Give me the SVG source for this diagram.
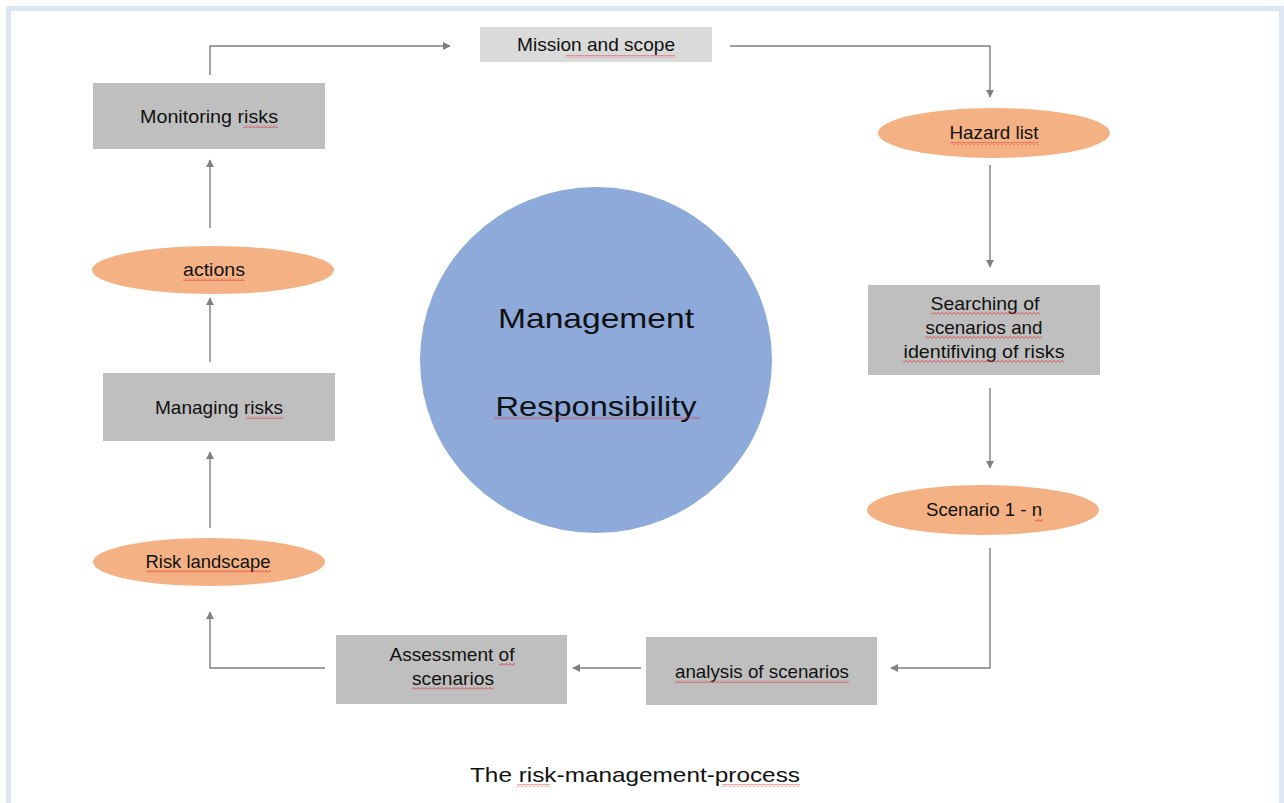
<svg xmlns="http://www.w3.org/2000/svg" width="1284" height="803" viewBox="0 0 1284 803">
<style>
.box{fill:#bfbfbf}
.box2{fill:#dadada}
.ell{fill:#f4b183}
.t{font-family:"Liberation Sans",Arial,sans-serif;font-size:19px;fill:#111;text-anchor:middle}
.big{font-size:28px}
.cap{font-size:21px}
.conn{fill:none;stroke:#7f7f7f;stroke-width:1.4}
.sq{fill:url(#squig)}
</style>
<defs>
<marker id="ah" viewBox="0 0 10 10" refX="9" refY="5" markerWidth="8" markerHeight="8" markerUnits="userSpaceOnUse" orient="auto">
<path d="M0,0 L10,5 L0,10 z" fill="#7f7f7f"/>
</marker>
<pattern id="squig" width="4" height="3" patternUnits="userSpaceOnUse">
<path d="M0,2.5 L2,0.5 L4,2.5" fill="none" stroke="#e0242a" stroke-width="0.8"/>
</pattern>
</defs>
<rect width="1284" height="803" fill="#ffffff"/>
<rect x="8.5" y="8.5" width="1273" height="800" fill="none" stroke="#dde7f3" stroke-width="5"/>

<g id="connectors">
<path class="conn" d="M210,75 V46 H450" marker-end="url(#ah)"/>
<path class="conn" d="M730,46 H990 V97" marker-end="url(#ah)"/>
<path class="conn" d="M990,165 V267" marker-end="url(#ah)"/>
<path class="conn" d="M990,388 V468" marker-end="url(#ah)"/>
<path class="conn" d="M990,548 V668 H891" marker-end="url(#ah)"/>
<path class="conn" d="M641,668 H573" marker-end="url(#ah)"/>
<path class="conn" d="M325,668 H210 V612" marker-end="url(#ah)"/>
<path class="conn" d="M210,528 V452" marker-end="url(#ah)"/>
<path class="conn" d="M210,362 V298" marker-end="url(#ah)"/>
<path class="conn" d="M210,228 V160" marker-end="url(#ah)"/>
</g>

<g id="center">
<ellipse cx="596" cy="360" rx="176" ry="173" fill="#8eaadb"/>
<text class="t big" x="596" y="328" textLength="196" lengthAdjust="spacingAndGlyphs">Management</text>
<text class="t big" x="596" y="416" textLength="201" lengthAdjust="spacingAndGlyphs">Responsibility</text>
<rect class="sq" x="494" y="416" width="206" height="3"/>
</g>

<g id="mission">
<rect class="box2" x="480" y="27" width="232" height="35"/>
<text class="t" x="596" y="51" textLength="158" lengthAdjust="spacingAndGlyphs">Mission and scope</text>
<rect class="sq" x="566" y="55" width="109" height="3"/>
</g>

<g id="hazard">
<ellipse class="ell" cx="994" cy="133" rx="116" ry="25"/>
<text class="t" x="994" y="139" textLength="89" lengthAdjust="spacingAndGlyphs">Hazard list</text>
<rect class="sq" x="950" y="142" width="89" height="3"/>
</g>

<g id="searching">
<rect class="box" x="868" y="285" width="232" height="90"/>
<text class="t" x="985" y="310" textLength="109" lengthAdjust="spacingAndGlyphs">Searching of</text>
<text class="t" x="984" y="334" textLength="117" lengthAdjust="spacingAndGlyphs">scenarios and</text>
<text class="t" x="984" y="358" textLength="161" lengthAdjust="spacingAndGlyphs">identifiving of risks</text>
<rect class="sq" x="931" y="312" width="109" height="3"/>
<rect class="sq" x="925" y="336" width="117" height="3"/>
<rect class="sq" x="903" y="360" width="161" height="3"/>
</g>

<g id="scenario">
<ellipse class="ell" cx="983" cy="510" rx="116" ry="25"/>
<text class="t" x="984" y="516" textLength="116" lengthAdjust="spacingAndGlyphs">Scenario 1 - n</text>
<rect class="sq" x="1035" y="519" width="8" height="3"/>
</g>

<g id="analysis">
<rect class="box" x="646" y="637" width="231" height="68"/>
<text class="t" x="762" y="678" textLength="174" lengthAdjust="spacingAndGlyphs">analysis of scenarios</text>
<rect class="sq" x="675" y="680" width="174" height="3"/>
</g>

<g id="assessment">
<rect class="box" x="336" y="635" width="231" height="69"/>
<text class="t" x="452" y="661" textLength="125" lengthAdjust="spacingAndGlyphs">Assessment of</text>
<text class="t" x="453" y="685" textLength="82" lengthAdjust="spacingAndGlyphs">scenarios</text>
<rect class="sq" x="499" y="663" width="16" height="3"/>
<rect class="sq" x="412" y="687" width="82" height="3"/>
</g>

<g id="landscape">
<ellipse class="ell" cx="209" cy="562" rx="116" ry="24"/>
<text class="t" x="208" y="568" textLength="125" lengthAdjust="spacingAndGlyphs">Risk landscape</text>
<rect class="sq" x="146" y="570" width="125" height="3"/>
</g>

<g id="managing">
<rect class="box" x="103" y="373" width="232" height="68"/>
<text class="t" x="219" y="414" textLength="128" lengthAdjust="spacingAndGlyphs">Managing risks</text>
<rect class="sq" x="246" y="416" width="37" height="3"/>
</g>

<g id="actions">
<ellipse class="ell" cx="213" cy="270" rx="121" ry="24"/>
<text class="t" x="214" y="276" textLength="62" lengthAdjust="spacingAndGlyphs">actions</text>
<rect class="sq" x="183" y="278" width="62" height="3"/>
</g>

<g id="monitoring">
<rect class="box" x="93" y="83" width="232" height="66"/>
<text class="t" x="209" y="123" textLength="138" lengthAdjust="spacingAndGlyphs">Monitoring risks</text>
<rect class="sq" x="243" y="125" width="35" height="3"/>
</g>

<g id="caption">
<text class="t cap" x="635" y="782" textLength="330" lengthAdjust="spacingAndGlyphs">The risk-management-process</text>
<rect class="sq" x="517" y="784" width="33" height="3"/>
<rect class="sq" x="722" y="784" width="78" height="3"/>
</g>
</svg>
